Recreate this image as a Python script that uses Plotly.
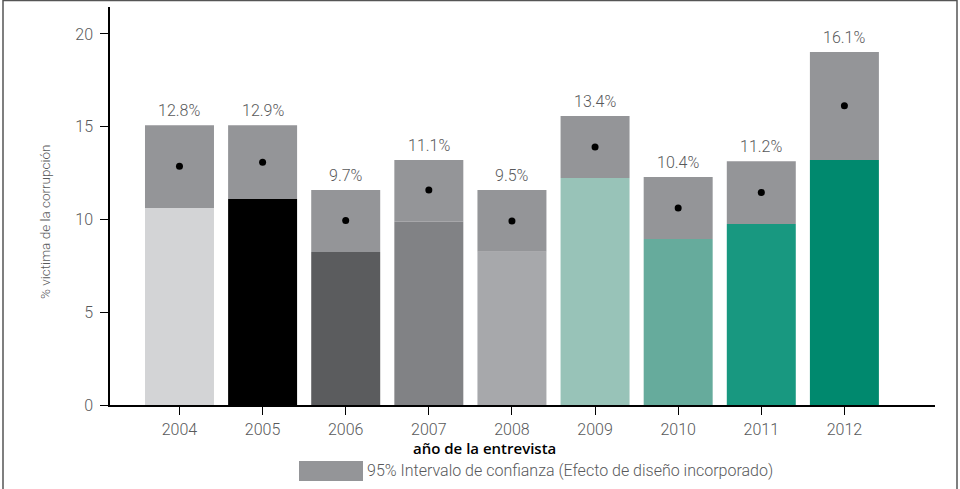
import plotly.graph_objects as go

years = ["2004", "2005", "2006", "2007", "2008", "2009", "2010", "2011", "2012"]
lower = [10.62, 11.10, 8.25, 9.87, 8.26, 12.24, 8.95, 9.76, 13.21]
upper = [15.08, 15.08, 11.59, 13.21, 11.59, 15.58, 12.29, 13.14, 19.03]
estimate = [12.87, 13.08, 9.94, 11.59, 9.92, 13.91, 10.62, 11.45, 16.13]
labels = ["12.8%", "12.9%", "9.7%", "11.1%", "9.5%", "13.4%", "10.4%", "11.2%", "16.1%"]
bar_colors = ["#d3d4d6", "#000000", "#5b5c5e", "#818285", "#a7a8ab",
              "#98c3b8", "#66ab9c", "#189880", "#00896e"]
ci_color = "#949598"
y_ticks = [0, 5, 10, 15, 20]

FONT = "Roboto"
TXT = "#58595b"

fig = go.Figure()
fig.add_trace(go.Bar(x=years, y=lower, marker=dict(color=bar_colors, line=dict(width=0)),
                     width=0.83, showlegend=False, hoverinfo="skip"))
fig.add_trace(go.Bar(x=years, y=[u - l for u, l in zip(upper, lower)], base=lower,
                     marker=dict(color=ci_color, line=dict(width=0)),
                     width=0.83, showlegend=False, hoverinfo="skip"))
fig.add_trace(go.Scatter(x=years, y=estimate, mode="markers",
                         marker=dict(color="black", size=7), showlegend=False))

# category axis: annotation x given as the category index
value_labels = [
    dict(x=i, y=up, xref="x", yref="y", text=lab, showarrow=False,
         xanchor="center", yanchor="bottom", yshift=3,
         font=dict(family=FONT, size=16, color=TXT, weight=300))
    for i, (up, lab) in enumerate(zip(upper, labels))
]

fig.update_layout(
    width=960, height=489,
    margin=dict(l=110, r=25, t=7, b=84),
    plot_bgcolor="white", paper_bgcolor="white",
    barmode="overlay",
    font=dict(family=FONT, color=TXT),
    xaxis=dict(type="category", range=[-0.836, 9.09],
               showline=True, linecolor="black", linewidth=1.5,
               ticks="outside", ticklen=8, tickcolor="black", tickwidth=1.2,
               tickfont=dict(family=FONT, size=16, color=TXT, weight=300),
               ticklabelstandoff=1, showgrid=False, zeroline=False),
    yaxis=dict(range=[0, 21.45], tickvals=y_ticks,
               showline=True, linecolor="black", linewidth=1.5,
               ticks="outside", ticklen=8, tickcolor="black", tickwidth=1.2,
               tickfont=dict(family=FONT, size=16, color=TXT, weight=300),
               ticklabelstandoff=4, showgrid=False, zeroline=False),
    shapes=[
        dict(type="rect", xref="paper", yref="paper",
             x0=(299 - 110) / 825, x1=(363 - 110) / 825,
             y0=(405 - 481) / 398, y1=(405 - 461) / 398,
             fillcolor=ci_color, line=dict(width=0)),
        dict(type="rect", xref="paper", yref="paper",
             x0=(3 - 110) / 825, x1=(957 - 110) / 825,
             y0=(405 - 495) / 398, y1=(405 - 0.5) / 398,
             fillcolor="rgba(0,0,0,0)", line=dict(color="#555555", width=1.5)),
    ],
    annotations=value_labels + [
        dict(text="año de la entrevista", xref="paper", yref="paper",
             x=(484 - 110) / 825, y=(405 - 448) / 398, showarrow=False,
             xanchor="center", yanchor="middle",
             font=dict(family="Open Sans", size=15, color="black", weight=600)),
        dict(text="95% Intervalo de confianza (Efecto de diseño incorporado)",
             xref="paper", yref="paper", x=(365 - 110) / 825, y=(405 - 470) / 398,
             showarrow=False, xanchor="left", yanchor="middle",
             font=dict(family=FONT, size=16, color=TXT, weight=300)),
        dict(text="% victima de la corrupción", xref="paper", yref="paper",
             x=(45 - 110) / 825, y=(405 - 222) / 398, showarrow=False,
             textangle=-90, xanchor="center", yanchor="middle",
             font=dict(family=FONT, size=13.5, color=TXT, weight=300)),
    ],
)

fig.write_html("out.html", config={"displayModeBar": False},
               post_script="document.body.style.margin='0';document.body.style.overflow='hidden';")
